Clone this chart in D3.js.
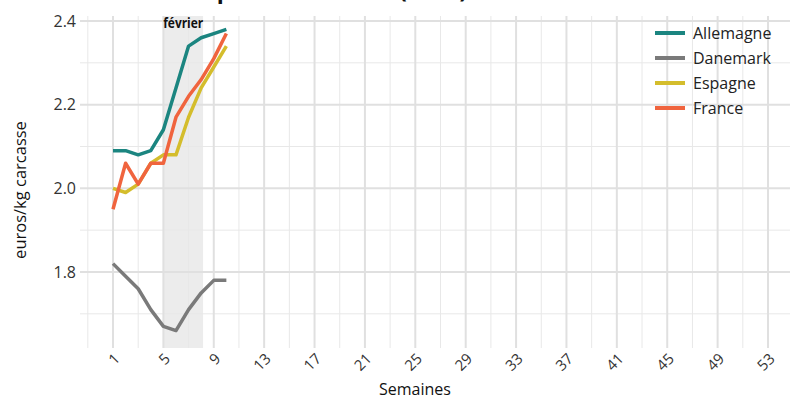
<!DOCTYPE html>
<html>
<head>
<meta charset="utf-8">
<script src="https://cdn.jsdelivr.net/npm/d3@7"></script>
<style>
  body { margin: 0; background: #fff; }
  text { font-family: "Open Sans", "Noto Sans", sans-serif; }
</style>
</head>
<body>
<div id="chart"></div>
<script>
// Weeks and prices (euros/kg carcasse)
const weeks = [1, 2, 3, 4, 5, 6, 7, 8, 9, 10];
const allemagne = [2.09, 2.09, 2.08, 2.09, 2.14, 2.24, 2.34, 2.36, 2.37, 2.38];
const danemark = [1.82, 1.79, 1.76, 1.71, 1.67, 1.66, 1.71, 1.75, 1.78, 1.78];
const espagne = [2.00, 1.99, 2.01, 2.06, 2.08, 2.08, 2.17, 2.24, 2.29, 2.34];
const france = [1.95, 2.06, 2.01, 2.06, 2.06, 2.17, 2.22, 2.26, 2.31, 2.37];

const countries = ["Allemagne", "Danemark", "Espagne", "France"];
const colors = ["#1b8580", "#7a7a7a", "#d4bd2c", "#f0643e"];

const xBreaks = d3.range(1, 54, 4);
const xMinor = d3.range(-1, 56, 4);
const yBreaks = [1.8, 2.0, 2.2, 2.4];
const yMinor = [1.7, 1.9, 2.1, 2.3];
const fevrier = [5, 8.15];

const width = 790, height = 399;
const panel = { left: 80, right: 790, top: 16, bottom: 348 };

const svg = d3.select("#chart").append("svg")
  .attr("width", width)
  .attr("height", height);

const x = d3.scaleLinear().domain([1, 53]).range([113, 768]);
const y = d3.scaleLinear().domain([1.8, 2.4]).range([272, 21]);

// title (cropped at the top of the picture, as in the source)
svg.append("text")
  .attr("x", 130).attr("y", -2.5)
  .attr("font-size", 23).attr("font-weight", "bold")
  .attr("fill", "#111")
  .text("Prix du porc charcutier (2021)");

// shaded february band
svg.append("rect")
  .attr("x", x(fevrier[0]))
  .attr("width", x(fevrier[1]) - x(fevrier[0]))
  .attr("y", panel.top)
  .attr("height", panel.bottom - panel.top)
  .attr("fill", "#ececec");

// grid
const grid = svg.append("g");
grid.selectAll(".hminor").data(yMinor).enter().append("line")
  .attr("x1", panel.left).attr("x2", panel.right)
  .attr("y1", d => y(d)).attr("y2", d => y(d))
  .attr("stroke", "#e8e8e8").attr("stroke-width", 1);
grid.selectAll(".vminor").data(xMinor).enter().append("line")
  .attr("x1", d => x(d)).attr("x2", d => x(d))
  .attr("y1", panel.top).attr("y2", panel.bottom)
  .attr("stroke", "#e8e8e8").attr("stroke-width", 1);
grid.selectAll(".hmajor").data(yBreaks).enter().append("line")
  .attr("x1", panel.left).attr("x2", panel.right)
  .attr("y1", d => y(d)).attr("y2", d => y(d))
  .attr("stroke", "#e0e0e0").attr("stroke-width", 2);
grid.selectAll(".vmajor").data(xBreaks).enter().append("line")
  .attr("x1", d => x(d)).attr("x2", d => x(d))
  .attr("y1", panel.top).attr("y2", panel.bottom)
  .attr("stroke", "#e0e0e0").attr("stroke-width", 2);

// february label
svg.append("text")
  .attr("x", (x(fevrier[0]) + x(fevrier[1])) / 2)
  .attr("y", 28)
  .attr("text-anchor", "middle")
  .attr("font-size", 15).attr("font-weight", "bold")
  .attr("textLength", 40).attr("lengthAdjust", "spacingAndGlyphs")
  .attr("fill", "#111")
  .text("février");

// y axis labels
svg.selectAll(".ylab").data(yBreaks).enter().append("text")
  .attr("x", 76).attr("y", d => y(d))
  .attr("dy", "0.35em")
  .attr("text-anchor", "end")
  .attr("font-size", 16).attr("fill", "#333")
  .text(d => d3.format(".1f")(d));

// x axis labels, rotated
svg.selectAll(".xlab").data(xBreaks).enter().append("text")
  .attr("transform", d => `translate(${x(d) + 4},${356}) rotate(-45)`)
  .attr("dy", "0.35em")
  .attr("text-anchor", "end")
  .attr("font-size", 15).attr("fill", "#333")
  .text(d => d);

// axis titles
svg.append("text")
  .attr("x", 415).attr("y", 395)
  .attr("text-anchor", "middle")
  .attr("font-size", 16).attr("fill", "#111")
  .text("Semaines");

svg.append("text")
  .attr("transform", "translate(26,190) rotate(-90)")
  .attr("text-anchor", "middle")
  .attr("font-size", 16.5).attr("fill", "#111")
  .text("euros/kg carcasse");

// lines
const series = [allemagne, danemark, espagne, france];
const line = d3.line()
  .x((d, i) => x(weeks[i]))
  .y(d => y(d));

series.forEach((s, i) => {
  svg.append("path")
    .datum(s)
    .attr("d", line)
    .attr("fill", "none")
    .attr("stroke", colors[i])
    .attr("stroke-width", 3.5)
    .attr("stroke-linejoin", "round");
});

// legend
const legend = svg.append("g").attr("transform", "translate(655,33)");
countries.forEach((c, i) => {
  legend.append("line")
    .attr("x1", 0).attr("x2", 30)
    .attr("y1", i * 25).attr("y2", i * 25)
    .attr("stroke", colors[i]).attr("stroke-width", 4);
  legend.append("text")
    .attr("x", 38).attr("y", i * 25)
    .attr("dy", "0.35em")
    .attr("font-size", 16).attr("fill", "#222")
    .text(c);
});
</script>
</body>
</html>
